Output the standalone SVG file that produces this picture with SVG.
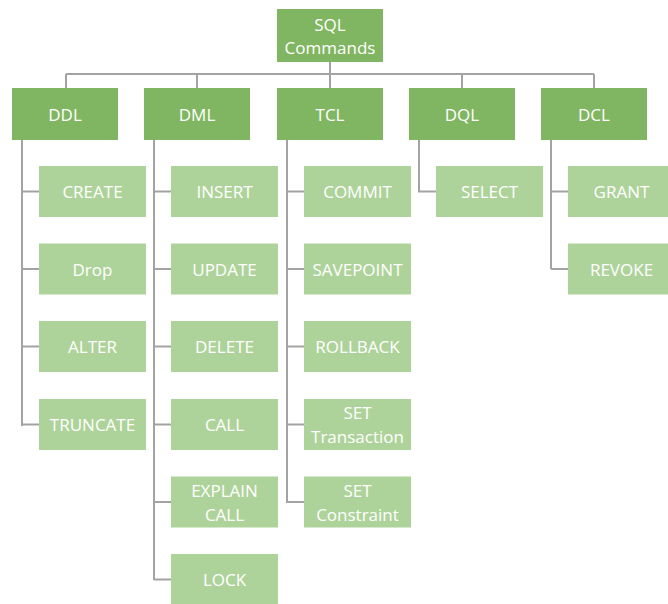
<svg xmlns="http://www.w3.org/2000/svg" width="668" height="604" viewBox="0 0 668 604">
<style>
.top rect{fill:#80b661}
.leaf rect{fill:#aed39a}
text{font-family:"Open Sans","Liberation Sans",sans-serif;font-size:17px;fill:#ffffff;text-anchor:middle;dominant-baseline:central}
#connectors path{fill:none;stroke:#a3a3a3;stroke-width:2}
</style>
<rect width="668" height="604" fill="#ffffff"/>
<g id="connectors">
<path d="M330 62V74M66 74H594M66 74V88M197 74V88M330 74V88M462 74V88M594 74V88"/>
<path d="M22 140V426M22 191.5H39M22 269H39M22 346.5H39M22 424.5H39"/>
<path d="M154 140V580M154 191.5H171M154 269H171M154 346.5H171M154 424.5H171M154 502H171M154 579.5H171"/>
<path d="M287 140V503M287 191.5H304M287 269H304M287 346.5H304M287 424.5H304M287 502H304"/>
<path d="M419 140V191.5H436"/>
<path d="M551 140V269M551 191.5H568M551 269H568"/>
</g>
<g id="root" class="top"><rect x="277" y="9" width="106" height="53"/><text x="330" y="24">SQL</text><text x="330" y="47.5">Commands</text></g>
<g id="ddl" class="top"><rect x="12" y="88" width="106" height="52"/><text x="65" y="114">DDL</text></g>
<g id="dml" class="top"><rect x="144" y="88" width="106" height="52"/><text x="197" y="114">DML</text></g>
<g id="tcl" class="top"><rect x="277" y="88" width="106" height="52"/><text x="330" y="114">TCL</text></g>
<g id="dql" class="top"><rect x="409" y="88" width="106" height="52"/><text x="462" y="114">DQL</text></g>
<g id="dcl" class="top"><rect x="541" y="88" width="106" height="52"/><text x="594" y="114">DCL</text></g>

<g id="create" class="leaf"><rect x="39" y="166" width="107" height="51"/><text x="92.5" y="191.5">CREATE</text></g>
<g id="drop" class="leaf"><rect x="39" y="243.5" width="107" height="51"/><text x="92.5" y="269">Drop</text></g>
<g id="alter" class="leaf"><rect x="39" y="321" width="107" height="51"/><text x="92.5" y="346.5">ALTER</text></g>
<g id="truncate" class="leaf"><rect x="39" y="399" width="107" height="51"/><text x="92.5" y="424.5">TRUNCATE</text></g>

<g id="insert" class="leaf"><rect x="171" y="166" width="107" height="51"/><text x="224.5" y="191.5">INSERT</text></g>
<g id="update" class="leaf"><rect x="171" y="243.5" width="107" height="51"/><text x="224.5" y="269">UPDATE</text></g>
<g id="delete" class="leaf"><rect x="171" y="321" width="107" height="51"/><text x="224.5" y="346.5">DELETE</text></g>
<g id="call" class="leaf"><rect x="171" y="399" width="107" height="51"/><text x="224.5" y="424.5">CALL</text></g>
<g id="explaincall" class="leaf"><rect x="171" y="476.5" width="107" height="51"/><text x="224.5" y="490">EXPLAIN</text><text x="224.5" y="514">CALL</text></g>
<g id="lock" class="leaf"><rect x="171" y="554" width="107" height="51"/><text x="224.5" y="579.5">LOCK</text></g>

<g id="commit" class="leaf"><rect x="304" y="166" width="107" height="51"/><text x="357.5" y="191.5">COMMIT</text></g>
<g id="savepoint" class="leaf"><rect x="304" y="243.5" width="107" height="51"/><text x="357.5" y="269">SAVEPOINT</text></g>
<g id="rollback" class="leaf"><rect x="304" y="321" width="107" height="51"/><text x="357.5" y="346.5">ROLLBACK</text></g>
<g id="settransaction" class="leaf"><rect x="304" y="399" width="107" height="51"/><text x="357.5" y="412.5">SET</text><text x="357.5" y="436.5">Transaction</text></g>
<g id="setconstraint" class="leaf"><rect x="304" y="476.5" width="107" height="51"/><text x="357.5" y="490">SET</text><text x="357.5" y="514">Constraint</text></g>

<g id="select" class="leaf"><rect x="436" y="166" width="107" height="51"/><text x="489.5" y="191.5">SELECT</text></g>

<g id="grant" class="leaf"><rect x="568" y="166" width="107" height="51"/><text x="621.5" y="191.5">GRANT</text></g>
<g id="revoke" class="leaf"><rect x="568" y="243.5" width="107" height="51"/><text x="621.5" y="269">REVOKE</text></g>
</svg>
